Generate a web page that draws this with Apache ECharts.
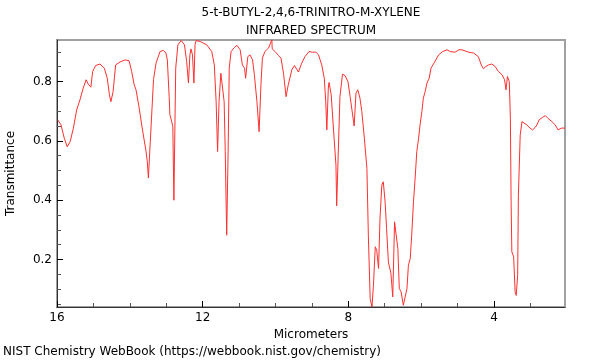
<!DOCTYPE html>
<html><head><meta charset="utf-8">
<script src="https://cdn.jsdelivr.net/npm/echarts@6/dist/echarts.min.js"></script>
<style>html,body{margin:0;padding:0;background:#fff}#c{width:600px;height:360px}</style>
</head><body><div id="c"></div>
<script>
const titleLines = ['5-t-BUTYL-2,4,6-TRINITRO-M-XYLENE', 'INFRARED SPECTRUM'];
const xName = 'Micrometers';
const yName = 'Transmittance';
const footer = 'NIST Chemistry WebBook (https://webbook.nist.gov/chemistry)';
const xLabelTicks = [4, 8, 12, 16];
const xMinorTicks = [3, 4, 5, 6, 7, 8, 9, 10, 11, 12, 13, 14, 15, 16];
const yLabelTicks = [0.2, 0.4, 0.6, 0.8];
const yMinorTicks = [0.05, 0.1, 0.15, 0.2, 0.25, 0.3, 0.35, 0.4, 0.45, 0.5, 0.55, 0.6, 0.65, 0.7, 0.75, 0.8, 0.85, 0.9];

const micrometers = [
15.98,15.89,15.80,15.72,15.64,15.55,15.46,15.37,15.28,15.20,15.14,15.07,15.02,14.94,14.82,14.70,14.62,14.56,14.52,14.46,
14.39,14.27,14.13,14.02,13.95,13.88,13.83,13.75,13.66,13.56,13.52,13.49,13.35,13.28,13.17,13.08,13.01,12.97,12.92,12.90,
12.85,12.82,12.79,12.74,12.68,12.59,12.50,12.44,12.39,12.35,12.32,12.28,12.24,12.21,12.18,12.07,11.89,11.75,11.68,11.63,
11.59,11.55,11.50,11.46,11.41,11.38,11.34,11.30,11.27,11.22,11.13,11.06,10.97,10.91,10.85,10.82,10.76,10.70,10.63,10.58,
10.51,10.45,10.40,10.36,10.29,10.19,10.10,10.09,10.01,9.92,9.85,9.78,9.71,9.65,9.55,9.48,9.41,9.37,9.28,9.19,
9.08,8.99,8.89,8.82,8.73,8.66,8.62,8.59,8.55,8.53,8.47,8.41,8.34,8.32,8.23,8.16,8.09,8.01,7.95,7.90,
7.84,7.79,7.74,7.68,7.63,7.56,7.49,7.45,7.40,7.35,7.31,7.26,7.22,7.17,7.13,7.08,7.04,6.99,6.95,6.90,
6.83,6.78,6.73,6.70,6.64,6.60,6.55,6.49,6.44,6.39,6.35,6.30,6.26,6.21,6.16,6.12,6.07,6.03,5.98,5.94,
5.89,5.84,5.78,5.73,5.62,5.52,5.41,5.29,5.20,5.07,4.96,4.88,4.70,4.56,4.43,4.35,4.29,4.22,4.15,4.06,
3.97,3.88,3.78,3.71,3.67,3.63,3.58,3.55,3.53,3.51,3.46,3.42,3.39,3.35,3.33,3.28,3.23,3.19,3.10,3.01,
2.94,2.87,2.82,2.76,2.67,2.59,2.52,2.41,2.32,2.24,2.15,2.05
];
const transmittance = [
0.671,0.654,0.609,0.580,0.597,0.643,0.704,0.738,0.778,0.806,0.791,0.781,0.834,0.854,0.859,0.845,0.811,0.755,0.732,0.766,
0.856,0.866,0.873,0.870,0.834,0.789,0.772,0.716,0.643,0.569,0.530,0.475,0.806,0.862,0.901,0.905,0.896,0.873,0.749,0.688,
0.665,0.648,0.400,0.845,0.924,0.938,0.924,0.868,0.795,0.890,0.910,0.890,0.795,0.924,0.938,0.935,0.924,0.901,0.856,0.732,
0.564,0.732,0.828,0.823,0.732,0.564,0.282,0.569,0.845,0.901,0.915,0.922,0.907,0.856,0.845,0.811,0.884,0.890,0.873,0.823,
0.732,0.631,0.789,0.879,0.901,0.913,0.941,0.910,0.901,0.888,0.879,0.828,0.749,0.789,0.840,0.854,0.840,0.832,0.862,0.884,
0.901,0.899,0.899,0.890,0.856,0.811,0.732,0.637,0.778,0.797,0.755,0.643,0.519,0.381,0.749,0.825,0.820,0.800,0.749,0.755,
0.650,0.761,0.772,0.744,0.699,0.609,0.507,0.282,0.068,0.040,0.113,0.243,0.231,0.170,0.339,0.451,0.462,0.395,0.305,0.192,
0.153,0.074,0.327,0.333,0.237,0.102,0.091,0.046,0.040,0.102,0.181,0.203,0.282,0.395,0.485,0.564,0.609,0.654,0.699,0.744,
0.766,0.795,0.811,0.845,0.868,0.890,0.901,0.907,0.901,0.899,0.907,0.907,0.899,0.896,0.884,0.856,0.843,0.851,0.856,0.859,
0.851,0.834,0.823,0.806,0.772,0.817,0.800,0.676,0.395,0.226,0.209,0.091,0.079,0.147,0.417,0.620,0.665,0.671,0.654,0.643,
0.637,0.645,0.654,0.671,0.679,0.685,0.676,0.665,0.654,0.637,0.643,0.643
];

const X_MIN = 2.05, X_MAX = 16, Y_MIN = 0.04, Y_MAX = 0.94;
const data = micrometers.map((m, i) => [m, transmittance[i]]);
const font = 'DejaVu Sans';
const chart = echarts.init(document.getElementById('c'), null, {renderer: 'canvas'});
chart.setOption({
  animation: false,
  backgroundColor: '#fff',
  grid: {left: 57, right: 35, top: 40, bottom: 53, containLabel: false, outerBoundsMode: 'none',
    show: true, borderColor: '#a0a0a0', borderWidth: 2, backgroundColor: 'transparent'},
  graphic: [
    {type: 'text', x: 311, y: 7, style: {text: titleLines[0], font: '12px ' + font, fill: '#000', textAlign: 'center'}},
    {type: 'text', x: 311, y: 25, style: {text: titleLines[1], font: '12px ' + font, fill: '#000', textAlign: 'center'}},
    {type: 'text', x: 3, y: 346, style: {text: footer, font: '12px ' + font, fill: '#000'}}
  ],
  xAxis: [{
    type: 'value', inverse: true, min: X_MIN, max: X_MAX,
    name: xName, nameLocation: 'middle', nameGap: 19,
    nameTextStyle: {fontFamily: font, fontSize: 12, color: '#000'},
    axisLine: {show: true, lineStyle: {color: '#333', width: 1}},
    axisTick: {show: true, inside: true, length: 4, customValues: xMinorTicks, lineStyle: {color: '#555'}},
    axisLabel: {customValues: xLabelTicks, fontFamily: font, fontSize: 12, color: '#000', margin: 5},
    splitLine: {show: false}
  }, {
    type: 'value', inverse: true, min: X_MIN, max: X_MAX, position: 'bottom', offset: 0,
    axisLine: {show: false},
    axisTick: {show: true, inside: true, length: 6, customValues: xLabelTicks, lineStyle: {color: '#000'}},
    axisLabel: {show: false}, splitLine: {show: false}
  }],
  yAxis: [{
    type: 'value', min: Y_MIN, max: Y_MAX,
    name: yName, nameLocation: 'middle', nameGap: 40, nameRotate: 90,
    nameTextStyle: {fontFamily: font, fontSize: 12, color: '#000'},
    axisLine: {show: true, lineStyle: {color: '#333', width: 1}},
    axisTick: {show: true, inside: true, length: 4, customValues: yMinorTicks, lineStyle: {color: '#555'}},
    axisLabel: {customValues: yLabelTicks, fontFamily: font, fontSize: 12, color: '#000', margin: 5,
      formatter: v => v.toFixed(1)},
    splitLine: {show: false}
  }, {
    type: 'value', min: Y_MIN, max: Y_MAX, position: 'left', offset: 0,
    axisLine: {show: false},
    axisTick: {show: true, inside: true, length: 6, customValues: yLabelTicks, lineStyle: {color: '#000'}},
    axisLabel: {show: false}, splitLine: {show: false}
  }],
  series: [{
    type: 'line', data: data, showSymbol: false, symbol: 'none',
    lineStyle: {color: '#ff3030', width: 1}, clip: true
  }]
});
</script></body></html>
